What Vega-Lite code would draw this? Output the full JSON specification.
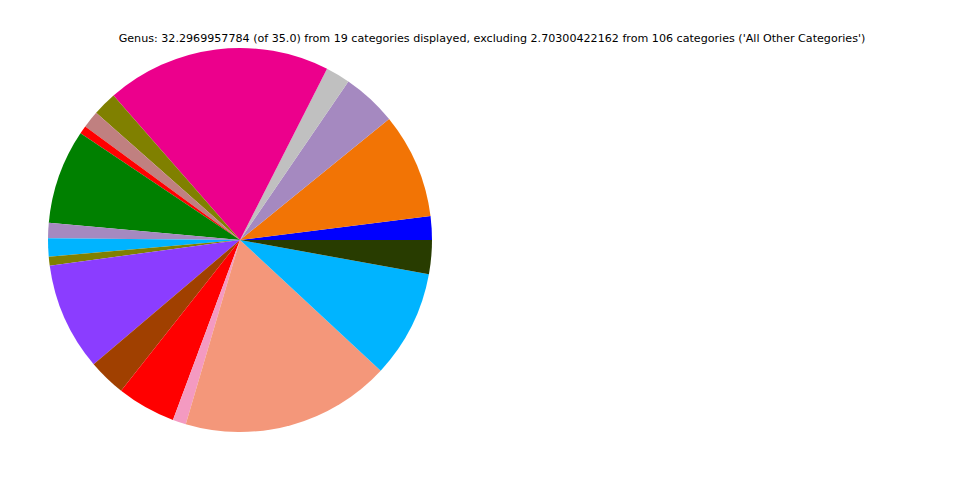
{
  "$schema": "https://vega.github.io/schema/vega-lite/v6.json",
  "width": 480,
  "height": 480,
  "autosize": {"type": "none"},
  "padding": {"left": 0, "top": 0, "right": 480, "bottom": 0},
  "background": "white",
  "title": {
    "text": "Genus: 32.2969957784 (of 35.0) from 19 categories displayed, excluding 2.70300422162 from 106 categories ('All Other Categories')",
    "font": "DejaVu Sans",
    "fontSize": 11.12,
    "fontWeight": "normal",
    "color": "black",
    "anchor": "middle",
    "frame": "group",
    "baseline": "middle",
    "offset": 0,
    "dx": 252,
    "dy": 50
  },
  "data": {
    "values": [
      {"category": "c01", "order": 1, "value": 0.642},
      {"category": "c02", "order": 2, "value": 2.864},
      {"category": "c03", "order": 3, "value": 1.486},
      {"category": "c04", "order": 4, "value": 0.664},
      {"category": "c05", "order": 5, "value": 6.116},
      {"category": "c06", "order": 6, "value": 0.656},
      {"category": "c07", "order": 7, "value": 0.466},
      {"category": "c08", "order": 8, "value": 0.222},
      {"category": "c09", "order": 9, "value": 2.569},
      {"category": "c10", "order": 10, "value": 0.419},
      {"category": "c11", "order": 11, "value": 0.493},
      {"category": "c12", "order": 12, "value": 0.243},
      {"category": "c13", "order": 13, "value": 2.928},
      {"category": "c14", "order": 14, "value": 1.023},
      {"category": "c15", "order": 15, "value": 1.599},
      {"category": "c16", "order": 16, "value": 0.362},
      {"category": "c17", "order": 17, "value": 5.699},
      {"category": "c18", "order": 18, "value": 2.924},
      {"category": "c19", "order": 19, "value": 0.923}
    ]
  },
  "mark": {"type": "arc", "outerRadius": 192, "stroke": null},
  "encoding": {
    "theta": {
      "field": "value",
      "type": "quantitative",
      "stack": true,
      "scale": {"range": [1.5707963, -4.7123890]}
    },
    "order": {"field": "order", "type": "quantitative"},
    "color": {
      "field": "category",
      "type": "nominal",
      "legend": null,
      "scale": {
        "domain": ["c01","c02","c03","c04","c05","c06","c07","c08","c09","c10","c11","c12","c13","c14","c15","c16","c17","c18","c19"],
        "range": ["#0000ff","#f27405","#a589c0","#c0c0c0","#ec008c","#808000","#c08080","#ff0000","#008000","#a589c0","#00b4ff","#808000","#8b3dff","#a04000","#ff0000","#f49ac1","#f4977a","#00b4ff","#283c00"]
      }
    }
  },
  "config": {"view": {"stroke": null}}
}
